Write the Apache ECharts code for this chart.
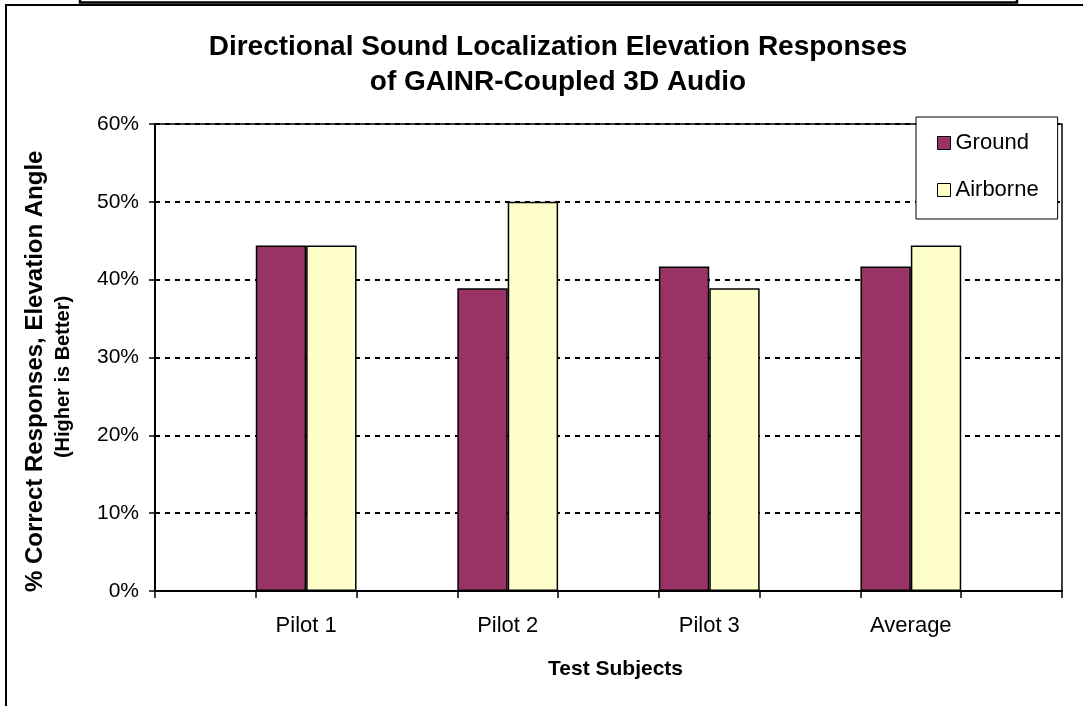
<!DOCTYPE html>
<html>
<head>
<meta charset="utf-8">
<script src="https://cdn.jsdelivr.net/npm/echarts@6/dist/echarts.min.js"></script>
<style>
  html, body { margin: 0; padding: 0; background: #ffffff; }
  #chart { width: 1083px; height: 706px; }
</style>
</head>
<body>
<div id="chart"></div>
<script>
// ---- Data ----
const subjects = ['Pilot 1', 'Pilot 2', 'Pilot 3', 'Average'];
const groundValues = [44.4, 38.9, 41.7, 41.7];
const airborneValues = [44.4, 50.0, 38.9, 44.4];
const yTicks = [0, 10, 20, 30, 40, 50, 60];
const seriesNames = ['Ground', 'Airborne'];

// The original axis uses empty spacer slots between subjects
const slots = [], groundSlots = [], airborneSlots = [];
subjects.forEach(function (s, i) {
  slots.push(''); groundSlots.push(null); airborneSlots.push(null);
  slots.push(s); groundSlots.push(groundValues[i]); airborneSlots.push(airborneValues[i]);
});
slots.push(''); groundSlots.push(null); airborneSlots.push(null);

const FONT = '"Liberation Sans", Arial, sans-serif';
const chart = echarts.init(document.getElementById('chart'), null, { renderer: 'canvas' });

chart.setOption({
  backgroundColor: '#ffffff',
  animation: false,
  title: {
    text: 'Directional Sound Localization Elevation Responses\nof GAINR-Coupled 3D Audio',
    left: 553,
    top: 25,
    textAlign: 'center',
    textStyle: { fontFamily: FONT, fontSize: 28, fontWeight: 'bold', color: '#000', lineHeight: 35 }
  },
  legend: {
    data: seriesNames,
    orient: 'vertical',
    left: 916,
    top: 117,
    padding: [15, 19, 18, 21],
    itemGap: 25,
    itemWidth: 13,
    itemHeight: 13,
    icon: 'rect',
    borderColor: '#000',
    borderWidth: 1,
    backgroundColor: '#fff',
    itemStyle: { borderColor: '#000', borderWidth: 1 },
    textStyle: { fontFamily: FONT, fontSize: 22, color: '#000' }
  },
  grid: {
    left: 155, right: 21, top: 124, bottom: 115,
    show: true, borderColor: '#000', borderWidth: 1.5, backgroundColor: 'transparent'
  },
  xAxis: {
    type: 'category',
    data: slots,
    name: 'Test Subjects',
    nameLocation: 'middle',
    nameGap: 68,
    nameTextStyle: { fontFamily: FONT, fontSize: 21, fontWeight: 'bold', color: '#000', padding: [0, 0, 0, 14] },
    axisLine: { lineStyle: { color: '#000', width: 2 } },
    axisTick: { show: true, interval: 0, length: 7, lineStyle: { color: '#000', width: 1.5 } },
    axisLabel: { interval: 0, margin: 24, fontFamily: FONT, fontSize: 22, color: '#000' },
    splitLine: { show: false }
  },
  yAxis: {
    type: 'value',
    min: yTicks[0],
    max: yTicks[yTicks.length - 1],
    interval: yTicks[1] - yTicks[0],
    axisLine: { show: true, lineStyle: { color: '#000', width: 2 } },
    axisTick: { show: true, length: 6, lineStyle: { color: '#000', width: 1.5 } },
    axisLabel: { margin: 16, fontFamily: FONT, fontSize: 21, color: '#000', formatter: '{value}%' },
    splitLine: { show: true, lineStyle: { color: '#000', width: 2, type: [5, 5] } }
  },
  series: [
    {
      name: seriesNames[0], type: 'bar', data: groundSlots,
      barGap: '0%', barCategoryGap: '0%',
      itemStyle: { color: '#993366', borderColor: '#000', borderWidth: 1.5 }
    },
    {
      name: seriesNames[1], type: 'bar', data: airborneSlots,
      barGap: '0%', barCategoryGap: '0%',
      itemStyle: { color: '#FFFFCC', borderColor: '#000', borderWidth: 1.5 }
    }
  ],
  graphic: [
    { type: 'rect', silent: true, z: -1, shape: { x: 6, y: 5, width: 1200, height: 900 },
      style: { fill: 'none', stroke: '#000', lineWidth: 2 } },
    { type: 'rect', silent: true, shape: { x: 80, y: -20, width: 937, height: 22.5 },
      style: { fill: 'none', stroke: '#000', lineWidth: 2.5 } },
    { type: 'text', silent: true, x: 35, y: 592, rotation: Math.PI / 2,
      style: { text: '% Correct Responses, Elevation Angle', fontFamily: FONT, fontSize: 24, fontWeight: 'bold',
               fill: '#000', align: 'left', verticalAlign: 'middle' } },
    { type: 'text', silent: true, x: 63, y: 377, rotation: Math.PI / 2,
      style: { text: '(Higher is Better)', fontFamily: FONT, fontSize: 20, fontWeight: 'bold',
               fill: '#000', align: 'center', verticalAlign: 'middle' } }
  ]
});
</script>
</body>
</html>
